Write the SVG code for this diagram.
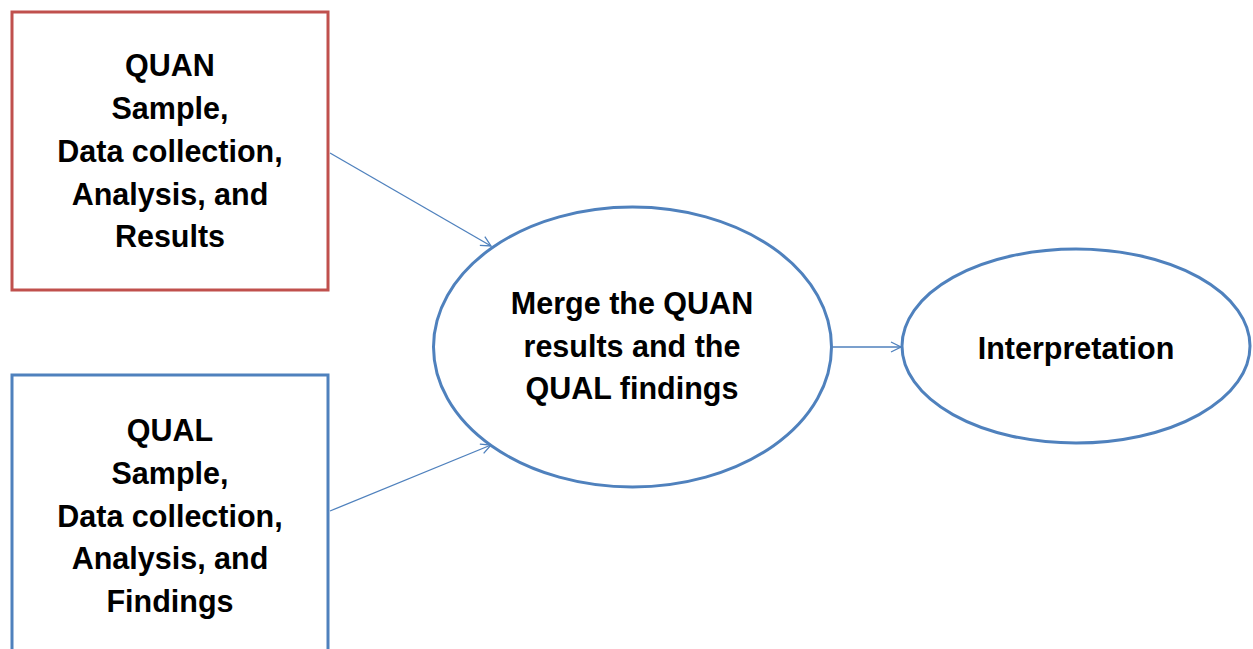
<svg xmlns="http://www.w3.org/2000/svg" width="1253" height="649" viewBox="0 0 1253 649">
<style>
.t{font-family:"Liberation Sans",Arial,sans-serif;font-weight:bold;font-size:30.5px;fill:#000;text-anchor:middle}
.c{stroke:#4F81BD;stroke-width:1.3;fill:none}
</style>
<defs>
<marker id="ah" viewBox="0 0 12 12" refX="11" refY="6" markerWidth="12" markerHeight="12" markerUnits="userSpaceOnUse" orient="auto">
<path d="M1,1 L11,6 L1,11" fill="none" stroke="#4F81BD" stroke-width="1.3"/>
</marker>
</defs>
<rect width="1253" height="649" fill="#fff"/>
<g id="connectors">
<line class="c" x1="330" y1="153" x2="491" y2="246" marker-end="url(#ah)"/>
<line class="c" x1="330" y1="511" x2="491" y2="445" marker-end="url(#ah)"/>
<line class="c" x1="833" y1="347" x2="901" y2="347" marker-end="url(#ah)"/>
</g>
<g id="quan">
<rect x="12" y="12" width="316" height="278" fill="#fff" stroke="#C0504D" stroke-width="3"/>
<text class="t" x="170" y="76">QUAN</text>
<text class="t" x="170" y="119">Sample,</text>
<text class="t" x="170" y="162">Data collection,</text>
<text class="t" x="170" y="205">Analysis, and</text>
<text class="t" x="170" y="247">Results</text>
</g>
<g id="qual">
<rect x="12" y="375" width="316" height="300" fill="#fff" stroke="#4F81BD" stroke-width="3"/>
<text class="t" x="170" y="441">QUAL</text>
<text class="t" x="170" y="484">Sample,</text>
<text class="t" x="170" y="527">Data collection,</text>
<text class="t" x="170" y="569">Analysis, and</text>
<text class="t" x="170" y="612">Findings</text>
</g>
<g id="merge">
<ellipse cx="632.5" cy="347" rx="199" ry="140" fill="#fff" stroke="#4F81BD" stroke-width="3"/>
<text class="t" x="632" y="314">Merge the QUAN</text>
<text class="t" x="632" y="357">results and the</text>
<text class="t" x="632" y="399">QUAL findings</text>
</g>
<g id="interpretation">
<ellipse cx="1076" cy="346" rx="174" ry="97" fill="#fff" stroke="#4F81BD" stroke-width="3"/>
<text class="t" x="1076" y="359">Interpretation</text>
</g>
</svg>
